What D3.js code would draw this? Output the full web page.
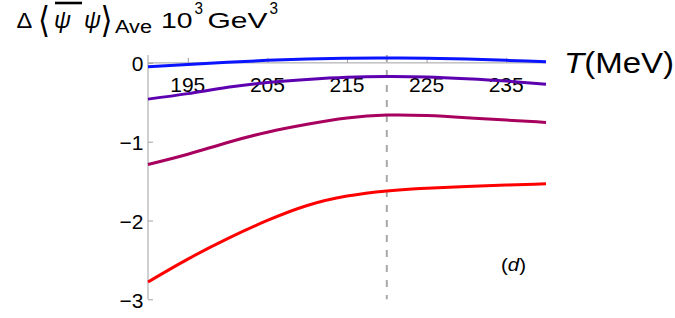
<!DOCTYPE html>
<html><head><meta charset="utf-8">
<script src="https://cdn.jsdelivr.net/npm/d3@7"></script>
<style>
html,body{margin:0;padding:0;background:#fff;}
svg{display:block;font-family:"Liberation Sans",Arial,Helvetica,sans-serif;}
</style></head>
<body><svg id="c" width="675" height="318"></svg>
<script>
const temps = [190,195,200,205,210,215,220,225,230,235,240];
const seriesBlue    = [-0.049,-0.019,0.008,0.032,0.048,0.058,0.063,0.060,0.049,0.032,0.014];
const seriesPurple  = [-0.46,-0.39,-0.31,-0.25,-0.21,-0.182,-0.172,-0.178,-0.20,-0.23,-0.27];
const seriesMagenta = [-1.29,-1.16,-1.01,-0.88,-0.78,-0.70,-0.662,-0.668,-0.695,-0.726,-0.755];
const seriesRed     = [-2.78,-2.49,-2.23,-2.00,-1.81,-1.69,-1.625,-1.59,-1.568,-1.55,-1.535];
const seriesColors  = ["#ff0000","#a8005e","#5c00b0","#0a14ff"];
const xTicks = [195,205,215,225,235];
const yTicks = [0,-1,-2,-3];
const yTickLabels = ["0","\u22121","\u22122","\u22123"];
const markerT = 220;

const svg = d3.select("#c");
const x = d3.scaleLinear().domain([190,240]).range([148,546]);
const y = d3.scaleLinear().domain([-3,0.1]).range([299.3,55]);
const axisColor = "#a0a0a0";

// x axis along y=0
const xa = svg.append("g").attr("transform",`translate(0,${y(0)})`)
  .call(d3.axisTop(x).tickValues(xTicks).tickSize(5).tickFormat(""));
xa.select(".domain").attr("stroke",axisColor).attr("d",`M${x(190)},0H${x(240)}`);
xa.selectAll(".tick line").attr("stroke",axisColor);
svg.append("g").selectAll("text").data(xTicks).join("text")
  .attr("x",d=>x(d)).attr("y",91.7).attr("text-anchor","middle")
  .attr("font-size",21).attr("fill","#000").text(d=>d);

// y axis
const ya = svg.append("g").attr("transform",`translate(${x(190)},0)`)
  .call(d3.axisRight(y).tickValues(yTicks).tickSize(5).tickFormat(""));
ya.select(".domain").attr("stroke",axisColor).attr("d",`M0,${y(0.1)}V${y(-3)}`);
ya.selectAll(".tick line").attr("stroke",axisColor);
svg.append("g").selectAll("text").data(yTicks).join("text")
  .attr("x",143.5).attr("y",d=>y(d)+8.5).attr("text-anchor","end")
  .attr("font-size",21).attr("fill","#000").text((d,i)=>yTickLabels[i]);

// dashed marker
svg.append("line").attr("x1",x(markerT)).attr("x2",x(markerT))
  .attr("y1",y(0.1)).attr("y2",y(-3))
  .attr("stroke","#a8a8a8").attr("stroke-width",2).attr("stroke-dasharray","7,8");

// curves
const line = d3.line().x((d,i)=>x(temps[i])).y(d=>y(d)).curve(d3.curveNatural);
[seriesRed,seriesMagenta,seriesPurple,seriesBlue].forEach((s,k)=>{
  svg.append("path").attr("d",line(s)).attr("fill","none")
    .attr("stroke",seriesColors[k]).attr("stroke-width",3).attr("stroke-linecap","butt");
});

// title
const t = svg.append("g").attr("fill","#000");
function txt(str,xx,yy,fs,opts={}){
  const e=t.append("text").attr("x",xx).attr("y",yy).attr("font-size",fs).text(str);
  if(opts.italic) e.attr("font-style","italic");
  if(opts.len) e.attr("textLength",opts.len).attr("lengthAdjust","spacingAndGlyphs");
  if(opts.family) e.attr("font-family",opts.family);
  return e;
}
txt("\u0394",16.5,27.6,22.5,{len:15.8});
txt("\u27E8",38,32,36,{family:"DejaVu Sans",len:12});
txt("\u03C8",54,28,24,{italic:true,len:17});
t.append("line").attr("x1",55).attr("x2",82).attr("y1",3).attr("y2",3).attr("stroke","#000").attr("stroke-width",2.6);
txt("\u03C8",84,28,24,{italic:true,len:17});
txt("\u27E9",100.5,32,36,{family:"DejaVu Sans",len:12});
txt("Ave",115,33.3,17.5,{len:37});
txt("10",161,27.6,22.5,{len:31.5});
txt("3",194.5,13.5,16.5,{len:8.5});
txt("GeV",207.5,27.6,22.5,{len:60});
txt("3",269.5,13.5,16.5,{len:8.5});

// axis label
const al = svg.append("text").attr("x",564).attr("y",73.3).attr("font-size",29).attr("fill","#000");
al.append("tspan").attr("font-style","italic").text("T");
al.append("tspan").text("(MeV)");
al.attr("textLength",110).attr("lengthAdjust","spacingAndGlyphs");

// panel tag
const pl = svg.append("text").attr("x",501).attr("y",271).attr("font-size",18).attr("fill","#000")
  .attr("textLength",25).attr("lengthAdjust","spacingAndGlyphs");
pl.append("tspan").text("(");
pl.append("tspan").attr("font-style","italic").text("d");
pl.append("tspan").text(")");
</script></body></html>
